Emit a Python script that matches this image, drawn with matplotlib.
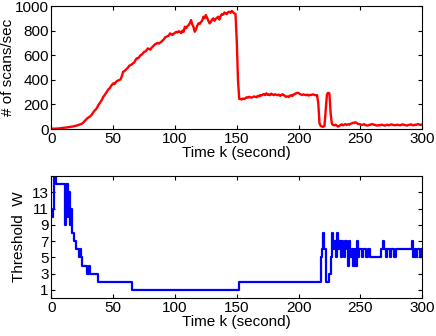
import matplotlib
matplotlib.use("Agg")
import matplotlib.pyplot as plt
import numpy as np

# scan rate, one sample per second, t = 0..300
scan_rate = [
    2, 2, 3, 3, 4, 4, 5, 6, 7, 9,
    10, 11, 12, 14, 15, 17, 19, 20, 22, 25,
    27, 30, 33, 37, 40, 46, 55, 66, 78, 87,
    95, 100, 110, 122, 138, 150, 160, 175, 195, 209,
    225, 240, 263, 275, 290, 305, 322, 330, 345, 360,
    371, 365, 380, 390, 395, 398, 405, 430, 466, 470,
    480, 490, 500, 515, 520, 525, 535, 540, 560, 575,
    575, 585, 600, 605, 615, 628, 630, 640, 656, 650,
    645, 660, 670, 680, 690, 695, 700, 695, 702, 710,
    720, 730, 745, 750, 755, 760, 778, 770, 765, 775,
    783, 790, 785, 795, 791, 780, 800, 790, 832, 820,
    835, 845, 859, 886, 850, 830, 791, 810, 840, 859,
    855, 870, 880, 913, 900, 927, 905, 880, 859, 870,
    890, 900, 880, 895, 905, 913, 890, 920, 935, 930,
    948, 940, 935, 950, 954, 945, 960, 950, 940, 935,
    720, 400, 245, 244, 240, 248, 244, 250, 258, 255,
    262, 258, 255, 260, 265, 262, 258, 270, 265, 276,
    272, 280, 285, 276, 290, 278, 282, 275, 288, 280,
    276, 283, 278, 275, 280, 270, 275, 282, 278, 268,
    262, 265, 260, 270, 275, 268, 280, 285, 290, 295,
    292, 285, 280, 276, 282, 278, 275, 280, 272, 278,
    276, 280, 282, 276, 275, 276, 209, 45, 25, 20,
    18, 25, 154, 280, 295, 290, 128, 43, 33, 30,
    35, 28, 20, 25, 33, 38, 30, 35, 40, 33,
    38, 35, 42, 45, 51, 48, 55, 50, 42, 40,
    38, 33, 35, 40, 33, 30, 28, 33, 35, 38,
    40, 35, 33, 30, 28, 33, 30, 35, 33, 30,
    28, 33, 35, 30, 33, 38, 35, 33, 30, 33,
    35, 33, 30, 33, 38, 35, 33, 30, 28, 33,
    35, 38, 33, 30, 35, 33, 38, 40, 35, 33,
    38,
]

# threshold W: times where it changes and the new value
w_time = [
    0, 1, 2, 4, 11, 12, 13, 14, 15, 16, 17, 18, 20, 22, 23, 24, 25,
    29, 30, 31, 38, 65, 152,
    218, 219, 220, 221, 222, 225, 226, 227, 228, 229, 230, 231, 232, 233,
    234, 235, 236, 237, 238, 239, 240, 241, 242, 243, 244, 245, 246, 247,
    248, 249, 251, 252, 255, 256, 258, 267, 268, 269, 271, 272, 274, 275,
    277, 279, 292, 293, 294, 295, 296, 298, 299, 300,
]
w_value = [
    10, 11, 15, 14, 9, 14, 10, 13, 9, 11, 8, 7, 6, 5, 6, 5, 4,
    3, 4, 3, 2, 1, 2,
    5, 6, 8, 6, 2, 3, 5, 8, 6, 7, 5, 8, 6, 7,
    5, 7, 6, 5, 7, 6, 4, 7, 5, 6, 4, 6, 4, 7,
    5, 6, 5, 6, 5, 6, 5, 6, 7, 6, 5, 6, 5, 6,
    5, 6, 7, 5, 6, 5, 6, 5, 6, 5,
]

t = np.arange(len(scan_rate))

plt.rcParams["font.family"] = ["Liberation Sans", "DejaVu Sans"]
plt.rcParams["font.size"] = 11

fig = plt.figure(figsize=(4.36, 3.36), dpi=100)
ax1 = fig.add_axes([0.118, 0.616, 0.850, 0.366])
ax2 = fig.add_axes([0.118, 0.113, 0.850, 0.363])

ax1.plot(t, scan_rate, color="red", lw=1.7)
ax1.set_xlim(0, 300)
ax1.set_ylim(0, 1000)
ax1.set_xticks([0, 50, 100, 150, 200, 250, 300])
ax1.set_yticks([0, 200, 400, 600, 800, 1000])
ax1.set_xlabel("Time k (second)", labelpad=0)
ax1.set_ylabel("# of scans/sec", labelpad=0)

ax2.plot(w_time, w_value, color="blue", lw=1.6, drawstyle="steps-post")
ax2.set_xlim(0, 300)
ax2.set_ylim(0, 15)
ax2.set_xticks([0, 50, 100, 150, 200, 250, 300])
ax2.set_yticks([1, 3, 5, 7, 9, 11, 13])
ax2.set_xlabel("Time k (second)", labelpad=0)
ax2.set_ylabel("Threshold  W", labelpad=4)

for ax in (ax1, ax2):
    ax.tick_params(direction="in", top=True, right=True, length=3, width=0.8, pad=2)
    for sp in ax.spines.values():
        sp.set_linewidth(0.8)

fig.savefig("out.png", dpi=100)
